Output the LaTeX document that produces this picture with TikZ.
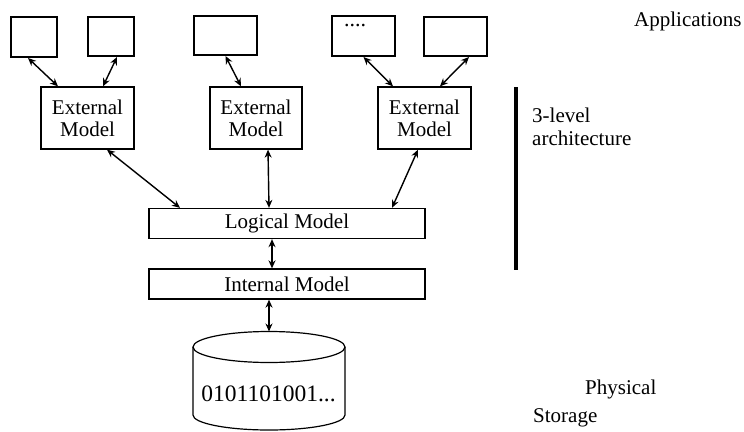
\documentclass[tikz,border=0pt]{standalone}
\usepackage{fontspec}
\setmainfont{Liberation Serif}
\usetikzlibrary{arrows.meta}
\begin{document}
\begin{tikzpicture}[x=1pt,y=-1pt,
  appbox/.style={draw,line width=2pt,inner sep=0pt},
  modelbox/.style={draw,line width=1.3pt,inner sep=0pt,align=center,font=\fontsize{21}{22}\selectfont},
  wide/.style={modelbox,minimum width=276pt,minimum height=30pt},
  link/.style={line width=1.4pt,{Stealth[length=8pt,width=7pt]}-{Stealth[length=8pt,width=7pt]}},
  lbl/.style={font=\fontsize{21}{23}\selectfont,inner sep=0pt,align=left}]
\useasboundingbox (0,0) rectangle (744,431);
% applications
\node[appbox,minimum width=46pt,minimum height=40pt] (app1) at (34,37) {};
\node[appbox,minimum width=46pt,minimum height=39pt] (app2) at (111,36.5) {};
\node[appbox,minimum width=63pt,minimum height=39pt] (app3) at (225.5,35.5) {};
\node[appbox,minimum width=63pt,minimum height=40pt] (app4) at (363.5,36) {};
\node[appbox,minimum width=63pt,minimum height=39pt] (app5) at (455.5,36.5) {};
\node[anchor=base west,inner sep=0pt,font=\fontsize{22}{22}\selectfont] (dots) at (344,26) {....};
% external models
\node[modelbox,minimum width=93pt,minimum height=62pt] (em1) at (87.5,118) {External\\Model};
\node[modelbox,minimum width=92pt,minimum height=62pt] (em2) at (256,118) {External\\Model};
\node[modelbox,minimum width=93pt,minimum height=62pt] (em3) at (424.5,118) {External\\Model};
% logical / internal
\node[wide] (logical) at (287,223.5) {Logical Model};
\node[wide] (internal) at (287,284) {Internal Model};
% cylinder
\draw[line width=1.2pt] (269,347) ellipse [x radius=76pt, y radius=15.5pt];
\draw[line width=1.2pt] (193,347) -- (193,415) arc[start angle=180,end angle=360,x radius=76pt,y radius=15pt] -- (345,347);
\coordinate (cyltop) at (269,331.5);
\node[font=\fontsize{23.5}{24}\selectfont,inner sep=0pt,anchor=base] (bits) at (268.5,401) {0101101001...};
% connectors
\draw[link] ([xshift=-6pt]app1.south) -- ([xshift=-29.5pt]em1.north);
\draw[link] ([xshift=6pt]app2.south) -- ([xshift=15.5pt]em1.north);
\draw[link] (app3.south) -- ([xshift=-15pt]em2.north);
\draw[link] (app4.south) -- ([xshift=-31.5pt]em3.north);
\draw[link] ([xshift=13.5pt]app5.south) -- ([xshift=15.5pt]em3.north);
\draw[link] ([xshift=19.5pt]em1.south) -- ([xshift=-107pt]logical.north);
\draw[link] ([xshift=12pt]em2.south) -- ([xshift=-18pt]logical.north);
\draw[link] ([xshift=-6.5pt]em3.south) -- ([xshift=105pt]logical.north);
\draw[link] ([xshift=-15pt]logical.south) -- ([xshift=-15pt]internal.north);
\draw[link] ([xshift=-18pt]internal.south) -- (cyltop);
% side annotations
\coordinate (bartop) at (516,87);
\coordinate (barbot) at (516,270);
\draw[line width=3.5pt] (bartop) -- (barbot);
\node[lbl,anchor=base west] (arch) at (532,145) {3-level\\architecture};
\node[lbl,anchor=base west] (apps) at (634,27) {Applications};
\node[lbl,anchor=base west] (phys) at (585,394) {Physical};
\node[lbl,anchor=base west] (stor) at (533,422) {Storage};
\end{tikzpicture}
\end{document}
